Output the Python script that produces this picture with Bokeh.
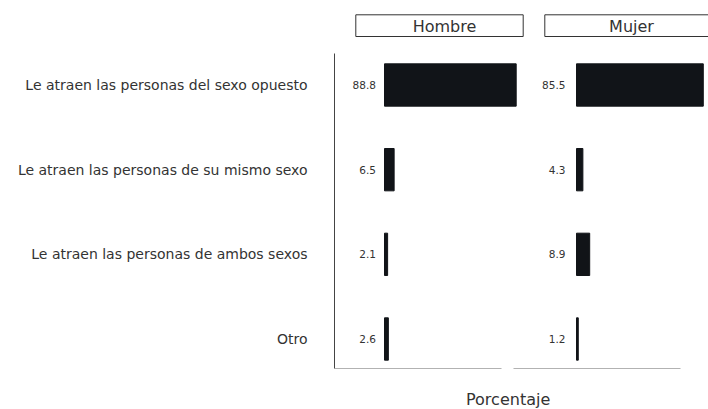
from bokeh.plotting import figure
from bokeh.models import (Range1d, LinearAxis, FixedTicker, ColumnDataSource, Title)
from bokeh.core.properties import value
from bokeh.embed import file_html
from bokeh.resources import INLINE

# ---------------- data ----------------
categories = [
    "Le atraen las personas del sexo opuesto",
    "Le atraen las personas de su mismo sexo",
    "Le atraen las personas de ambos sexos",
    "Otro",
]
hombre = [88.8, 6.5, 2.1, 2.6]
mujer = [85.5, 4.3, 8.9, 1.2]
facets = ["Hombre", "Mujer"]
x_title = "Porcentaje"

# ---------------- style / layout constants (pixels) ----------------
FONT = "DejaVu Sans"
BAR = "#111418"
TXT = "#333333"
W, H = 708, 409
K = 1.483            # pixels per percentage unit
ROW = 84.67          # pixels per category row
ROW1_Y = 84.5        # y of first row centre
FRAME_L, FRAME_R = 334, 708
FRAME_T, FRAME_B = 0, 368
ZERO_H, ZERO_M = 384, 576

def xd(px, zero):
    return (px - zero) / K

def yd(py):
    return 1 + (py - ROW1_Y) / ROW

ypos = [i + 1 for i in range(len(categories))]

p = figure(width=W, height=H, output_backend="svg", toolbar_location=None,
           x_range=Range1d(xd(FRAME_L, ZERO_H), xd(FRAME_R, ZERO_H)),
           y_range=Range1d(yd(FRAME_B), yd(FRAME_T)),
           x_axis_location=None, y_axis_location=None,
           min_border_left=FRAME_L, min_border_right=W - FRAME_R,
           min_border_top=FRAME_T, min_border_bottom=H - FRAME_B)
p.extra_x_ranges = {"mujer": Range1d(xd(FRAME_L, ZERO_M), xd(FRAME_R, ZERO_M))}
p.grid.visible = False
p.outline_line_color = None
p.background_fill_color = "white"
p.border_fill_color = "white"

# y axis with category labels
yax = LinearAxis(ticker=FixedTicker(ticks=ypos),
                 major_label_overrides={y: c for y, c in zip(ypos, categories)},
                 bounds=(yd(53.3), yd(FRAME_B)))
yax.axis_line_color = "#444444"
yax.major_tick_line_color = None
yax.minor_tick_line_color = None
yax.major_label_standoff = 21
yax.major_label_text_font = FONT
yax.major_label_text_font_size = "14px"
yax.major_label_text_color = TXT
p.add_layout(yax, "left")

# bottom axis lines (one per facet)
for name, zero, a, b in [("default", ZERO_H, 334, 501), ("mujer", ZERO_M, 512.7, 679.7)]:
    ax = LinearAxis(x_range_name=name, fixed_location=yd(FRAME_B),
                    bounds=(xd(a, zero), xd(b, zero)), ticker=FixedTicker(ticks=[]))
    ax.axis_line_color = "#666666"
    ax.major_tick_line_color = None
    ax.minor_tick_line_color = None
    p.add_layout(ax, "below")

# shared x title (a leading blank line pushes it down below the axes)
title = Title(text="\n" + x_title, align="left", offset=131.5, vertical_align="bottom",
              standoff=0, text_font=FONT, text_font_style="normal",
              text_font_size="16px", text_color=TXT)
p.add_layout(title, "below")

# bars and value labels
for name, vals, zero, off in [("default", hombre, ZERO_H, -8.5), ("mujer", mujer, ZERO_M, -11)]:
    src = ColumnDataSource(dict(y=ypos, v=vals, t=[f"{v:.1f}" for v in vals],
                                z=[0] * len(vals)))
    p.hbar(y="y", left=0, right="v", height=0.5, source=src, color=BAR,
           x_range_name=name)
    p.text(x="z", y="y", text="t", source=src, x_range_name=name,
           text_align="right", text_baseline="middle", x_offset=off,
           text_font=value(FONT), text_font_size="10.5px", text_color=TXT)

# facet header boxes
for name, zero, l, r, cx, txt in [("default", ZERO_H, 355.3, 522.7, 444, facets[0]),
                                   ("mujer", ZERO_M, 544.3, 712, 631, facets[1])]:
    p.quad(left=[xd(l, zero)], right=[xd(r, zero)], top=[yd(14.3)], bottom=[yd(36)],
           fill_color="white", line_color="#333333", line_width=1, x_range_name=name)
    p.text(x=[xd(cx, zero)], y=[yd(25.5)], text=[txt], x_range_name=name,
           text_align="center", text_baseline="middle",
           text_font=value(FONT), text_font_size="16px", text_color=TXT)

open("out.html", "w").write(file_html(p, INLINE))
